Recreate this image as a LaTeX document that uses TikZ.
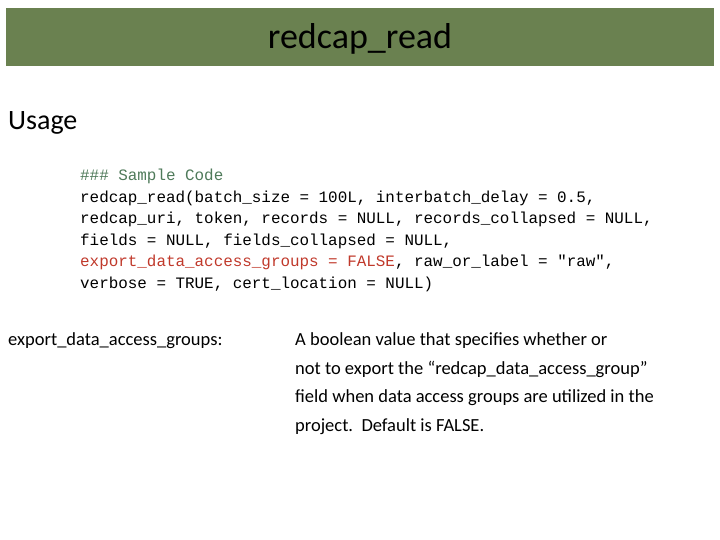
\documentclass[tikz,border=0pt]{standalone}
\usepackage{fontspec}
\setmainfont{Carlito}
\setmonofont{Liberation Mono}
\definecolor{bar}{HTML}{6A8150}
\definecolor{cmt}{HTML}{4F7A5A}
\definecolor{hl}{HTML}{C0392B}
\begin{document}
\begin{tikzpicture}[x=1pt,y=1pt,
  code/.style={anchor=base west,inner sep=0pt,font=\fontsize{15.9}{18}\ttfamily},
  txt/.style={anchor=base west,inner sep=0pt,font=\fontsize{18.5}{22}\selectfont}]
\useasboundingbox (0,0) rectangle (720,540);
\fill[bar] (6,474) rectangle (714,532);
\node[anchor=base,inner sep=0pt,font=\fontsize{36}{40}\selectfont] (title) at (360,491) {redcap\_read};
\node[anchor=base west,inner sep=0pt,font=\fontsize{28}{32}\selectfont] (usage) at (8,410) {Usage};
\node[code,text=cmt] (c0) at (80,359) {\#\#\# Sample Code};
\node[code] (c1) at (80,337.5) {redcap\_read(batch\_size = 100L, interbatch\_delay = 0.5,};
\node[code] (c2) at (80,316) {redcap\_uri, token, records = NULL, records\_collapsed = NULL,};
\node[code] (c3) at (80,294.5) {fields = NULL, fields\_collapsed = NULL,};
\node[code] (c4) at (80,273) {\textcolor{hl}{export\_data\_access\_groups = FALSE}, raw\_or\_label = "raw",};
\node[code] (c5) at (80,251.5) {verbose = TRUE, cert\_location = NULL)};
\node[txt] (lbl) at (8,194) {export\_data\_access\_groups:};
\node[txt] (d1) at (295,194) {A boolean value that specifies whether or};
\node[txt] (d2) at (295,165.5) {not to export the “redcap\_data\_access\_group”};
\node[txt] (d3) at (295,137) {field when data access groups are utilized in the};
\node[txt] (d4) at (295,108.5) {project.\ \ Default is FALSE.};
\end{tikzpicture}
\end{document}
